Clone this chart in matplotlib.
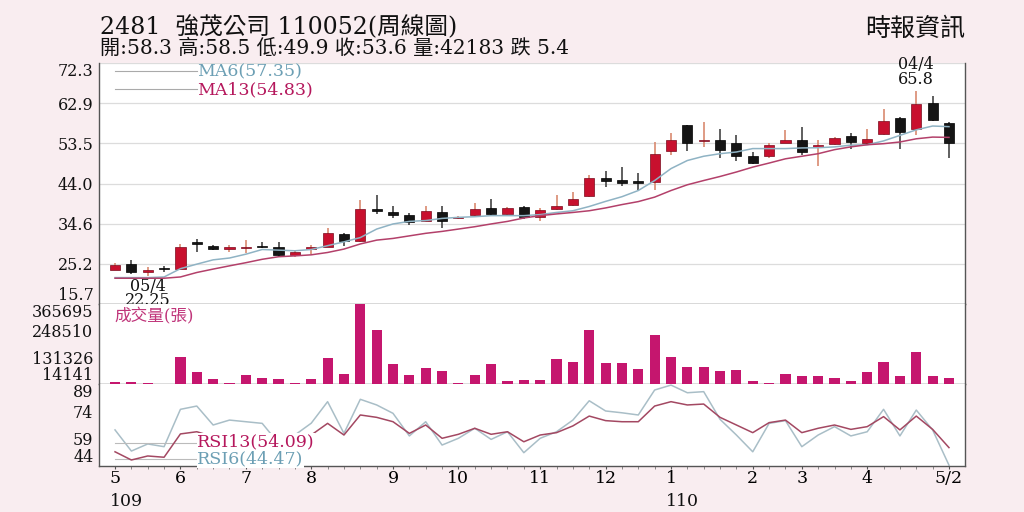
import matplotlib
matplotlib.use('Agg')
import matplotlib.pyplot as plt
import matplotlib.transforms as mtransforms

# ---------------- data ----------------
opens = [23.8, 25.1, 23.3, 24.0, 24.0, 30.1, 29.3, 28.5, 28.8, 29.2,
         29.0, 27.2, 28.5, 29.2, 32.1, 30.6, 38.0, 37.3, 36.6, 35.1,
         37.4, 35.8, 36.5, 38.3, 36.9, 38.4, 36.1, 38.1, 38.9, 41.0,
         45.4, 44.9, 44.7, 44.3, 51.6, 57.7, 53.9, 54.3, 53.6, 50.4,
         50.4, 53.6, 54.3, 52.6, 53.2, 55.2, 53.6, 55.6, 59.5, 56.9,
         63.0, 58.3]
highs = [25.4, 26.1, 24.4, 24.6, 29.8, 31.0, 29.5, 29.5, 30.8, 30.2,
         30.3, 28.4, 29.5, 33.6, 32.3, 40.2, 41.4, 38.8, 37.1, 38.8,
         38.6, 36.4, 39.4, 40.4, 38.5, 38.8, 38.3, 41.3, 42.0, 46.1,
         46.9, 47.8, 46.4, 53.7, 55.9, 57.8, 58.5, 56.7, 55.5, 51.4,
         53.4, 56.5, 57.3, 54.1, 55.0, 55.9, 56.7, 61.6, 59.6, 65.8,
         64.5, 58.5]
lows = [23.7, 22.7, 22.25, 23.1, 23.7, 28.0, 28.3, 28.0, 27.7, 28.8,
        26.9, 26.8, 27.4, 29.0, 29.3, 30.3, 36.9, 35.8, 34.3, 34.9,
        33.6, 35.6, 36.1, 36.5, 36.5, 35.7, 35.1, 37.8, 38.6, 40.8,
        43.1, 43.3, 42.4, 42.5, 50.6, 51.6, 52.6, 50.1, 49.4, 48.5,
        50.1, 53.4, 50.8, 48.0, 53.0, 52.0, 53.0, 55.3, 52.0, 55.3,
        58.7, 49.9]
closes = [24.8, 23.3, 23.8, 23.9, 29.0, 29.9, 28.5, 29.1, 28.9, 29.0,
          27.1, 28.0, 29.1, 32.4, 30.6, 37.9, 37.6, 36.7, 34.9, 37.6,
          35.1, 36.2, 37.9, 36.9, 38.2, 36.1, 37.8, 38.7, 40.4, 45.3,
          44.5, 44.2, 44.2, 51.0, 54.1, 53.5, 54.1, 51.8, 50.5, 48.9,
          53.0, 54.1, 51.4, 53.0, 54.8, 53.7, 54.5, 58.6, 56.1, 62.6,
          59.0, 53.6]
volume = [22800, 21400, 18500, 14141, 132600, 66200, 34400, 18500, 53200, 41600,
          35800, 19900, 35800, 128300, 58900, 365695, 249800, 100900, 53200, 82300,
          70600, 17000, 53200, 103800, 27200, 30200, 30200, 124000, 112600, 252800,
          105300, 105300, 78000, 231000, 131300, 87900, 90900, 69200, 73600, 27200,
          19800, 57500, 50100, 47500, 40200, 27200, 66200, 109600, 47500, 156000,
          50100, 42183]
ma6 = [21.9, 21.9, 21.9, 22.05, 24.0, 25.06, 26.07, 26.5, 27.4, 28.5,
       28.35, 28.2, 28.5, 29.4, 30.3, 31.3, 33.3, 34.5, 35.1, 35.3,
       35.8, 36.05, 36.2, 36.45, 36.45, 36.45, 36.7, 37.2, 37.6, 38.6,
       39.8, 40.9, 42.35, 44.7, 47.5, 49.4, 50.4, 51.0, 51.4, 52.2,
       52.2, 52.2, 52.35, 52.4, 52.6, 53.0, 53.1, 54.0, 55.3, 56.6,
       57.5, 57.35]
ma13 = [21.75, 21.75, 21.75, 21.75, 22.05, 23.1, 23.9, 24.66, 25.4, 26.2,
        26.8, 27.0, 27.25, 27.8, 28.6, 29.8, 30.7, 31.1, 31.7, 32.3,
        32.75, 33.3, 33.85, 34.5, 35.1, 35.9, 36.45, 36.85, 37.2, 37.6,
        38.26, 39.05, 39.75, 40.8, 42.35, 43.7, 44.7, 45.65, 46.7, 47.85,
        48.8, 49.8, 50.4, 51.0, 51.95, 52.6, 53.1, 53.35, 53.75, 54.5,
        54.9, 54.83]
rsi6 = [63.8, 52.2, 56.1, 54.6, 75.1, 76.9, 66.5, 69.2, 68.3, 67.4,
        56.5, 61.0, 67.5, 79.3, 61.9, 80.6, 77.5, 72.9, 60.5, 68.3,
        55.5, 59.2, 64.7, 58.6, 62.8, 51.3, 59.2, 62.8, 69.2, 79.8,
        74.2, 73.2, 72.0, 85.7, 88.4, 84.2, 84.8, 69.6, 61.0, 51.8,
        67.4, 68.9, 54.6, 61.0, 65.6, 60.5, 62.8, 75.1, 60.5, 74.7,
        63.8, 44.47]
rsi13 = [51.8, 47.3, 49.5, 48.8, 61.6, 62.8, 60.1, 61.0, 60.5, 60.5,
         57.5, 59.0, 61.0, 67.4, 61.0, 72.0, 70.7, 68.3, 61.9, 66.5,
         59.2, 61.4, 64.7, 61.4, 62.8, 57.3, 61.0, 62.3, 66.0, 71.4,
         68.9, 68.3, 68.3, 76.9, 79.3, 77.5, 78.0, 70.7, 66.5, 62.3,
         67.8, 69.2, 62.3, 64.7, 66.5, 64.1, 65.6, 71.1, 63.8, 71.4,
         64.1, 54.09]
month_idx = [0, 4, 8, 12, 17, 21, 26, 30, 34, 39, 42, 46, 51]
month_labels = ['5', '6', '7', '8', '9', '10', '11', '12', '1', '2', '3', '4', '5/2']
year_idx = [0, 34]
year_labels = ['109', '110']
price_ticks = [15.7, 25.2, 34.6, 44.0, 53.5, 62.9, 72.3]
vol_ticks = [14141, 131326, 248510, 365695]
rsi_ticks = [44, 59, 74, 89]

title1 = '2481  強茂公司 110052(周線圖)'
title2 = '開:58.3 高:58.5 低:49.9 收:53.6 量:42183 跌 5.4'
source = '時報資訊'

# ---------------- styling ----------------
plt.rcParams['font.family'] = ['DejaVu Serif', 'Noto Sans CJK TC']
BG = '#f9edf0'
RED = '#c8102e'
BLK = '#151515'
VOLC = '#c5166e'
MA6C = '#8fb3c4'
MA13C = '#b3406a'
TXT6 = '#6c9fb4'
TXT13 = '#b5175c'
SPINE = '#555555'

fig = plt.figure(figsize=(10.24, 5.12), dpi=100)
fig.patch.set_facecolor(BG)

L, W = 99 / 1024, 866 / 1024
ax1 = fig.add_axes([L, 1 - 304 / 512, W, 241 / 512])
ax2 = fig.add_axes([L, 1 - 384 / 512, W, 80 / 512], sharex=ax1)
ax3 = fig.add_axes([L, 1 - 466 / 512, W, 82 / 512], sharex=ax1)

n = len(closes)
xs = list(range(n))

# ---- candles ----
for i in xs:
    o, h, l, c = opens[i], highs[i], lows[i], closes[i]
    up = c >= o
    body = RED if up else BLK
    wick = '#d98a70' if up else '#444444'
    ax1.vlines(i, l, h, color=wick, lw=1.2, zorder=2)
    bh = max(abs(c - o), 0.35)
    ax1.bar(i, bh, bottom=min(o, c), width=0.62, color=body,
            edgecolor='#7a0a1c' if up else '#000000', lw=0.5, zorder=3)

ax1.plot(xs, ma6, color=MA6C, lw=1.1, zorder=4)
ax1.plot(xs, ma13, color=MA13C, lw=1.1, zorder=4)

ax1.set_ylim(price_ticks[0], price_ticks[-1])
ax1.set_yticks(price_ticks)
ax1.set_yticklabels([f'{v:.1f}' for v in price_ticks])
ax1.grid(axis='y', color='#dcdcdc', lw=0.9)
ax1.set_axisbelow(True)

# MA legend
ax1.plot([0.018, 0.113], [0.966, 0.966], transform=ax1.transAxes, color='#aaaaaa', lw=0.8)
ax1.plot([0.018, 0.113], [0.893, 0.893], transform=ax1.transAxes, color='#aaaaaa', lw=0.8)
ax1.text(0.113, 0.962, 'MA6(57.35)', transform=ax1.transAxes, color=TXT6,
         fontsize=12.5, va='center', ha='left')
ax1.text(0.113, 0.89, 'MA13(54.83)', transform=ax1.transAxes, color=TXT13,
         fontsize=12.5, va='center', ha='left')

# high / low annotations
ax1.text(2, 21.9, '05/4\n22.25', ha='center', va='top', fontsize=11.5,
         color='#111111', linespacing=0.82)
ax1.text(49, 66.4, '04/4\n65.8', ha='center', va='bottom', fontsize=11.5,
         color='#111111', linespacing=0.82, clip_on=False)

# ---- volume ----
ax2.bar(xs, volume, width=0.62, color=VOLC, zorder=3)
ax2.set_ylim(vol_ticks[0], vol_ticks[-1])
ax2.set_yticks(vol_ticks)
ax2.set_yticklabels([str(v) for v in vol_ticks])
ax2.text(0.018, 0.845, '成交量(張)', transform=ax2.transAxes, color='#c0357a',
         fontsize=12, va='center', ha='left', zorder=5)

# ---- RSI ----
ax3.plot(xs, rsi6, color='#a9bec7', lw=1.1, zorder=2)
ax3.plot(xs, rsi13, color='#a34862', lw=1.1, zorder=3)
ax3.set_ylim(rsi_ticks[0], rsi_ticks[-1])
ax3.set_yticks(rsi_ticks)
ax3.set_yticklabels([str(v) for v in rsi_ticks])
ax3.plot([0.018, 0.113], [0.28, 0.28], transform=ax3.transAxes, color='#bbbbbb', lw=0.8)
ax3.plot([0.018, 0.113], [0.085, 0.085], transform=ax3.transAxes, color='#bbbbbb', lw=0.8)
ax3.text(0.113, 0.29, 'RSI13(54.09)', transform=ax3.transAxes, color=TXT13,
         fontsize=12.5, va='center', ha='left', zorder=5,
         bbox=dict(facecolor='white', edgecolor='none', pad=0.3))
ax3.text(0.113, 0.085, 'RSI6(44.47)', transform=ax3.transAxes, color=TXT6,
         fontsize=12.5, va='center', ha='left', zorder=5,
         bbox=dict(facecolor='white', edgecolor='none', pad=0.3))

# ---- x axis ----
ax1.set_xlim(-0.98, n - 0.02)
ax3.set_xticks(month_idx)
ax3.set_xticklabels(month_labels)
ax3.set_xticks(xs, minor=True)
ax3.tick_params(axis='x', which='major', length=2.5, color=SPINE, labelsize=12.5, pad=0.5)
ax3.tick_params(axis='x', which='minor', length=2, color='#777777')
trans = mtransforms.blended_transform_factory(ax3.transData, ax3.transAxes)
for xi, lab in zip(year_idx, year_labels):
    ax3.text(xi - 0.32, -0.43, lab, transform=trans, ha='left', va='center',
             fontsize=12.5, color='#111111')

for ax in (ax1, ax2):
    ax.tick_params(axis='x', which='both', bottom=False, labelbottom=False)

for ax, ticks in ((ax1, price_ticks), (ax2, vol_ticks), (ax3, rsi_ticks)):
    ax.set_facecolor('white')
    ax.tick_params(axis='y', length=0, labelsize=11.5, pad=4, labelcolor='#111111')
    labs = ax.get_yticklabels()
    labs[0].set_verticalalignment('bottom')
    labs[-1].set_verticalalignment('top')
    ax.spines['top'].set_visible(False)
    for s in ('left', 'right', 'bottom'):
        ax.spines[s].set_color(SPINE)
        ax.spines[s].set_linewidth(1.0)

# ---- header ----
fig.text(100 / 1024, 1 - 34 / 512, title1, fontsize=17, va='baseline', ha='left', color='#111111')
fig.text(100 / 1024, 1 - 54 / 512, title2, fontsize=14.5, va='baseline', ha='left', color='#111111')
fig.text(965 / 1024, 1 - 29 / 512, source, fontsize=18, va='center', ha='right', color='#111111')

fig.savefig('out.png', dpi=100, facecolor=BG)
